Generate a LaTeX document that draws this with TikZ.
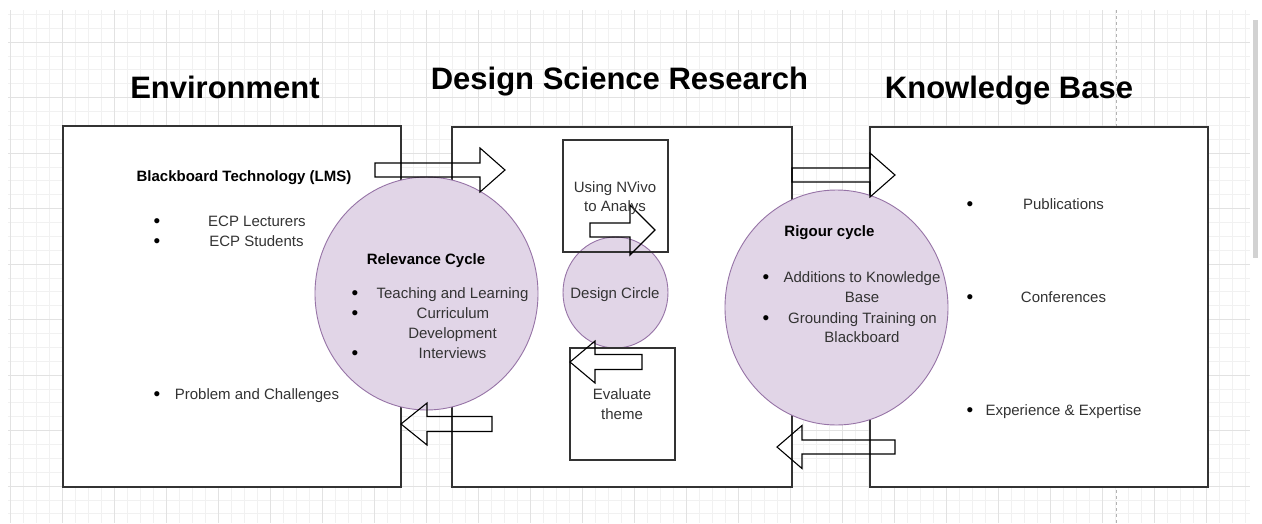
\documentclass[tikz,border=0pt]{standalone}
\usepackage{fontspec}
\setmainfont{Liberation Sans}
\usetikzlibrary{shapes.geometric}
\definecolor{boxline}{HTML}{333333}
\definecolor{purplefill}{HTML}{E1D5E7}
\definecolor{purpleline}{HTML}{9673A6}
\definecolor{textgray}{HTML}{333333}
\definecolor{gridminor}{HTML}{F1F1F1}
\definecolor{gridmajor}{HTML}{E2E2E2}
% hollow block arrow: tail x, head base x, tip x, centre y, body half-height, head half-height
\newcommand{\fatarrow}[6]{%
  \draw[blk] (#1,#4-#5) -- (#2,#4-#5) -- (#2,#4-#6) -- (#3,#4)
    -- (#2,#4+#6) -- (#2,#4+#5) -- (#1,#4+#5) -- cycle;}
\begin{document}
\begin{tikzpicture}[x=1pt,y=-1pt,
  panel/.style={draw=boxline, line width=1.3pt, fill=white, rectangle, inner sep=0},
  innerbox/.style={draw=boxline, line width=1.2pt, rectangle, inner sep=0},
  cyc/.style={draw=purpleline, fill=purplefill, line width=0.9pt, ellipse, inner sep=0},
  blk/.style={draw=black, line width=1.1pt, line join=miter},
  title/.style={font=\fontsize{31}{36}\selectfont\bfseries, text=black, anchor=base, inner sep=0},
  txt/.style={font=\fontsize{15}{20}\selectfont, text=textgray, anchor=base, inner sep=0},
  btxt/.style={font=\fontsize{15}{20}\selectfont\bfseries, text=black, anchor=base, inner sep=0},
  dot/.style={font=\fontsize{19}{20}\selectfont, text=black, anchor=base, inner sep=0, yshift=-1.3pt},
]
\useasboundingbox (0,0) rectangle (1262,523);
\fill[white] (0,0) rectangle (1262,523);

% canvas grid
\foreach \i in {0,...,95}
  \draw[gridminor, line width=0.6pt] (10.5+13*\i,10) -- (10.5+13*\i,523);
\foreach \j in {-2,...,34}
  \draw[gridminor, line width=0.6pt] (8,42+13.875*\j) -- (1250,42+13.875*\j);
\foreach \i in {0,4,...,92}
  \draw[gridmajor, line width=0.7pt] (10.5+13*\i,10) -- (10.5+13*\i,523);
\foreach \j in {0,4,...,32}
  \draw[gridmajor, line width=0.7pt] (8,42+13.875*\j) -- (1250,42+13.875*\j);
\draw[gray!60, dashed, line width=0.7pt] (1116,10) -- (1116,523);
\fill[gray!35] (1253,20) rectangle (1258,258);

% titles
\node[title] (tenv) at (225,98) {Environment};
\node[title] (tdsr) at (619.5,89) {Design Science Research};
\node[title] (tkb) at (1009,98) {Knowledge Base};

% the three panels
\node[panel, minimum width=338, minimum height=361] (env) at (232,306.5) {};
\node[panel, minimum width=340, minimum height=360] (dsr) at (622,307) {};
\node[panel, minimum width=338, minimum height=360] (kb) at (1039,307) {};

% cycles
\node[cyc, minimum width=223, minimum height=233] (rel) at (426.5,293.5) {};
\node[cyc, minimum width=105, minimum height=111] (dc) at (615.5,292.5) {};
\node[cyc, minimum width=223, minimum height=235] (rig) at (836.5,307.5) {};

% boxes inside the design panel
\node[innerbox, minimum width=105, minimum height=112] (nv) at (615.5,196) {};
\node[innerbox, minimum width=105, minimum height=112] (ev) at (622.5,404) {};

% block arrows
\fatarrow{375}{480}{505}{170}{7}{22}
\fatarrow{590}{630}{655}{230}{7}{25}
\fatarrow{642}{595}{570}{362}{7.5}{21}
\fatarrow{492}{427}{401}{424}{7.5}{21}
\fatarrow{792}{870}{895}{175}{7}{22}
\fatarrow{895}{802}{777}{447}{7}{21.5}

% environment texts
\node[btxt] (lms) at (244,181) {Blackboard Technology (LMS)};
\node[dot] (eb1) at (157,226) {•};
\node[txt] (ecpl) at (257,226) {ECP Lecturers};
\node[dot] (eb2) at (157,246) {•};
\node[txt] (ecps) at (256.5,246) {ECP Students};
\node[dot] (eb3) at (157,399) {•};
\node[txt] (prob) at (257,399) {Problem and Challenges};

% relevance cycle texts
\node[btxt] (relt) at (426,264) {Relevance Cycle};
\node[dot] (rb1) at (355,298) {•};
\node[dot] (rb2) at (355,318) {•};
\node[dot] (rb3) at (355,358) {•};
\node[txt] (r1) at (452.5,298) {Teaching and Learning};
\node[txt] (r2) at (453,318) {Curriculum};
\node[txt] (r3) at (452.5,338) {Development};
\node[txt] (r4) at (452.5,358) {Interviews};

% design panel texts
\node[txt] (nv1) at (615,192) {Using NVivo};
\node[txt] (nv2) at (615,211) {to Analys};
\node[txt] (dct) at (615,298) {Design Circle};
\node[txt] (ev1) at (622,399) {Evaluate};
\node[txt] (ev2) at (622,419) {theme};

% rigour cycle texts
\node[btxt] (rigt) at (829.5,236) {Rigour cycle};
\node[dot] (gb1) at (766,282) {•};
\node[dot] (gb2) at (766,323) {•};
\node[txt] (g1) at (862,282) {Additions to Knowledge};
\node[txt] (g2) at (862,302) {Base};
\node[txt] (g3) at (862.5,323) {Grounding Training on};
\node[txt] (g4) at (862,342) {Blackboard};

% knowledge base texts
\node[dot] (kb1) at (970,209) {•};
\node[dot] (kb2) at (970,302) {•};
\node[dot] (kb3) at (970,415) {•};
\node[txt] (pub) at (1063.5,209) {Publications};
\node[txt] (conf) at (1063.5,302) {Conferences};
\node[txt] (expe) at (1063.5,415) {Experience \& Expertise};
\end{tikzpicture}
\end{document}
